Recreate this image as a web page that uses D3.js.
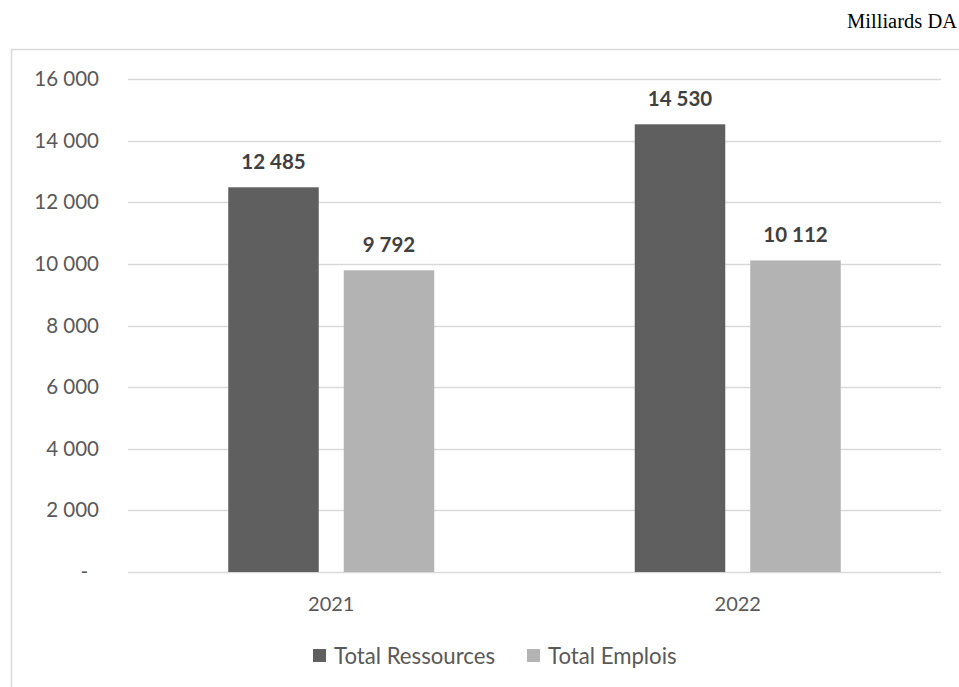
<!DOCTYPE html>
<html><head><meta charset="utf-8">
<script src="https://cdn.jsdelivr.net/npm/d3@7"></script>
<style>body{margin:0;background:#fff;} svg{display:block;}</style>
</head><body>
<svg id="c" width="959" height="687"></svg>
<script>
const categories = ["2021", "2022"];
const seriesNames = ["Total Ressources", "Total Emplois"];
const ressources = [12485, 14530];
const emplois = [9792, 10112];
const yTicks = [0, 2000, 4000, 6000, 8000, 10000, 12000, 14000, 16000];
const colors = ["#5f5f5f", "#b3b3b3"];

(function () {
const svg = d3.select("#c");
const font = "Lato, 'Open Sans', sans-serif";
const textColor = "#595959";

// frame
svg.append("line").attr("x1", 11).attr("x2", 959).attr("y1", 49.5).attr("y2", 49.5).attr("stroke", "#d9d9d9").attr("stroke-width", 1.5);
svg.append("line").attr("x1", 11.5).attr("x2", 11.5).attr("y1", 49).attr("y2", 687).attr("stroke", "#d9d9d9").attr("stroke-width", 1.5);

svg.append("text").attr("x", 957).attr("y", 28).attr("text-anchor", "end")
  .attr("font-family", "'Liberation Serif', 'Times New Roman', serif").attr("font-size", 20.5).attr("fill", "#000").text("Milliards DA");

const pl = 128, pr = 941, pt = 79, pb = 572;
const x = d3.scaleBand().domain(categories).range([pl, pr]);
const y = d3.scaleLinear().domain([0, 16000]).range([pb, pt]);
const inner = d3.scaleBand().domain(seriesNames).range([0, 206]).paddingInner(0.2165);

// gridlines
svg.append("g").selectAll("line").data(yTicks).join("line")
  .attr("x1", pl).attr("x2", pr)
  .attr("y1", d => Math.round(y(d)) + 0.5).attr("y2", d => Math.round(y(d)) + 0.5)
  .attr("stroke", "#d9d9d9").attr("stroke-width", 1.5);

const fmt = d => d === 0 ? "-" : d3.format(",")(d).replace(/,/g, " ");

// y axis labels
const yAxis = d3.axisLeft(y).tickValues(yTicks).tickSize(0).tickPadding(0).tickFormat(fmt);
const gy = svg.append("g").attr("transform", `translate(99,0)`).call(yAxis);
gy.select(".domain").remove();
gy.selectAll("text").attr("font-family", font).attr("font-size", 20.5).attr("fill", textColor)
  .attr("dx", d => d === 0 ? -11 : 0);

// x axis labels
const xAxis = d3.axisBottom(x).tickSize(0).tickPadding(0);
const gx = svg.append("g").attr("transform", `translate(0,${pb})`).call(xAxis);
gx.select(".domain").remove();
gx.selectAll("text").attr("font-family", font).attr("font-size", 20).attr("fill", textColor)
  .attr("dy", null).attr("y", 39);

// bars
const data = [];
categories.forEach((c, i) => {
  data.push({cat: c, s: seriesNames[0], v: ressources[i], col: colors[0]});
  data.push({cat: c, s: seriesNames[1], v: emplois[i], col: colors[1]});
});
const groupOffset = d => x(d.cat) + (x.bandwidth() - 206) / 2;
svg.append("g").selectAll("rect").data(data).join("rect")
  .attr("x", d => groupOffset(d) + inner(d.s))
  .attr("width", inner.bandwidth())
  .attr("y", d => y(d.v))
  .attr("height", d => y(0) - y(d.v))
  .attr("fill", d => d.col);

svg.append("g").selectAll("text").data(data).join("text")
  .attr("x", d => groupOffset(d) + inner(d.s) + inner.bandwidth() / 2)
  .attr("y", d => y(d.v) - 18)
  .attr("text-anchor", "middle")
  .attr("font-family", font).attr("font-size", 20.5).attr("font-weight", "bold").attr("fill", "#404040")
  .text(d => fmt(d.v));

// legend
const legendX = [313, 527];
const lg = svg.append("g").selectAll("g").data(seriesNames).join("g")
  .attr("transform", (d, i) => `translate(${legendX[i]},649)`);
lg.append("rect").attr("width", 13).attr("height", 13).attr("fill", (d, i) => colors[i]);
lg.append("text").attr("x", 21).attr("y", 14.5).attr("font-family", font).attr("font-size", 22.2).attr("fill", textColor).text(d => d);
})();
</script>
</body></html>
